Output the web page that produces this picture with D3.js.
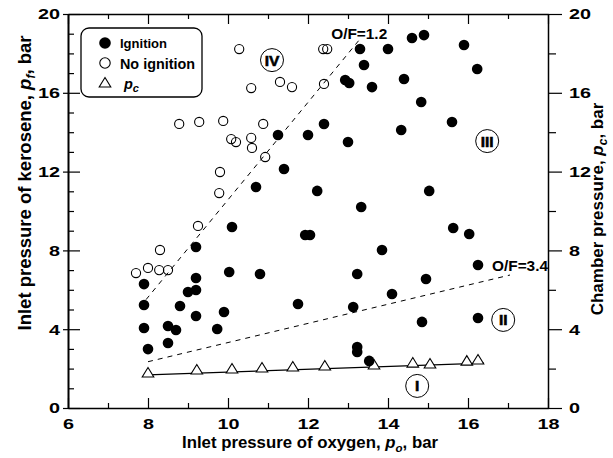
<!DOCTYPE html>
<html><head><meta charset="utf-8">
<script src="https://cdn.jsdelivr.net/npm/d3@7"></script>
<style>
body{margin:0;background:#fff}
text{font-family:"Liberation Sans",Arial,sans-serif;font-weight:bold;fill:#000}
</style>
</head><body><svg id="c" width="613" height="458"></svg>
<script>
// ---- data ----
const ignitionPo = [8.0,7.9,7.9,7.9,8.5,8.7,8.5,8.8,9.0,9.2,9.2,9.2,9.2,9.73,9.9,10.03,10.1,10.8,10.7,11.4,11.25,11.75,12.0,12.23,11.93,12.05,12.4,12.93,13.03,13.0,13.3,13.4,13.33,13.23,13.13,13.23,13.23,13.53,13.6,13.85,14.0,14.1,14.33,14.4,14.6,14.9,14.83,14.95,14.85,15.03,15.6,15.63,15.9,16.03,16.23,16.25,16.25];
const ignitionPf = [2.99,4.06,5.23,6.29,4.16,3.96,3.30,5.18,5.89,5.99,6.60,4.67,8.17,4.01,4.87,6.90,9.19,6.80,11.22,12.13,13.86,5.28,13.86,11.02,8.78,8.78,14.42,16.65,16.50,13.50,18.22,17.41,10.20,6.80,5.13,3.10,2.84,2.39,16.29,8.02,18.22,5.79,14.11,16.70,18.78,18.93,15.53,6.55,4.37,11.02,14.52,9.14,18.43,8.83,17.21,7.26,4.57];
const noIgnitionPo = [7.7,8.0,8.28,8.5,8.3,9.25,9.78,9.8,10.08,10.2,10.58,10.6,10.93,8.78,9.28,9.88,10.88,10.28,10.58,11.3,11.6,12.4,12.38,12.48];
const noIgnitionPf = [6.85,7.11,7.0,7.0,8.02,9.24,10.91,11.98,13.65,13.5,13.71,13.2,12.74,14.42,14.52,14.57,14.42,18.22,16.24,16.55,16.29,16.45,18.22,18.22];
const pcPo = [8.0,9.22,10.1,10.85,11.62,12.42,13.65,14.62,15.05,15.97,16.25];
const pcPc = [1.78,1.93,1.98,2.03,2.08,2.13,2.18,2.28,2.23,2.38,2.44];
const pcFitPo = [8.0,16.4];
const pcFitPc = [1.68,2.28];
const of12Po = [7.95,13.3];
const of12Pf = [5.5,18.73];
const of34Po = [8.0,17.05];
const of34Pf = [2.35,6.75];
const ofLabels = ["O/F=1.2","O/F=3.4"];
const ofLabelPo = [12.58,16.6];
const ofLabelPf = [18.73,6.95];
const regionLabels = ["IV","III","II","I"];
const regionPo = [11.1,16.48,16.88,14.73];
const regionPf = [17.66,13.55,4.47,1.12];
const xTicks = d3.range(6,19,1);
const yLeftTicks = d3.range(0,21,1);
const yRightTicks = d3.range(0,21,2);

// ---- layout ----
const svg = d3.select("#c");
const x = d3.scaleLinear().domain([6,18]).range([68,548]);
const y = d3.scaleLinear().domain([0,20]).range([408,14]);
const FS = 15;

function styleAxis(g){
  g.select(".domain").attr("stroke","#000").attr("stroke-width",1.5);
  g.selectAll(".tick line").attr("stroke","#000").attr("stroke-width",1.2);
  g.selectAll(".tick text").attr("font-size",FS).attr("font-family",null)
    .each(function(){const t=d3.select(this).text(); if(t) d3.select(this).attr("textLength",t.length*11).attr("lengthAdjust","spacingAndGlyphs");});
}

// bottom
const gB = svg.append("g").attr("transform","translate(0,408)")
  .call(d3.axisBottom(x).tickValues(xTicks).tickSize(-5).tickSizeOuter(0).tickPadding(10).tickFormat(d=>d%2===0?d:""));
styleAxis(gB);
gB.selectAll(".tick line").filter(d=>d%2===0).attr("y2",-10);
// top
const gT = svg.append("g").attr("transform","translate(0,14)")
  .call(d3.axisTop(x).tickValues(xTicks).tickSize(-5).tickSizeOuter(0).tickFormat(""));
styleAxis(gT);
gT.selectAll(".tick line").filter(d=>d%2===0).attr("y2",10);
// left
const gL = svg.append("g").attr("transform","translate(68,0)")
  .call(d3.axisLeft(y).tickValues(yLeftTicks).tickSize(-6).tickSizeOuter(0).tickPadding(8).tickFormat(d=>d%4===0?d:""));
styleAxis(gL);
gL.select(".domain").attr("stroke-width",2);
gL.selectAll(".tick line").filter(d=>d%4===0).attr("x1",-5).attr("x2",12);
// right
const gR = svg.append("g").attr("transform","translate(548,0)")
  .call(d3.axisRight(y).tickValues(yRightTicks).tickSize(8).tickSizeOuter(0).tickPadding(13).tickFormat(d=>d%4===0?d:""));
styleAxis(gR);
gR.selectAll(".tick line").filter(d=>d%4===0).attr("x2",14);

// dashed O/F lines
const line = d3.line().x(d=>x(d[0])).y(d=>y(d[1]));
[[of12Po,of12Pf],[of34Po,of34Pf]].forEach(([px,py])=>{
  svg.append("path").attr("d",line(px.map((v,i)=>[v,py[i]])))
    .attr("fill","none").attr("stroke","#000").attr("stroke-width",1).attr("stroke-dasharray","5,5");
});
svg.selectAll("text.of").data(ofLabels).join("text").attr("class","of")
  .attr("x",(d,i)=>x(ofLabelPo[i])).attr("y",(d,i)=>y(ofLabelPf[i]))
  .attr("font-size",14).attr("textLength",56).attr("lengthAdjust","spacingAndGlyphs").text(d=>d);

// pc fit line
svg.append("path").attr("d",line(pcFitPo.map((v,i)=>[v,pcFitPc[i]])))
  .attr("fill","none").attr("stroke","#000").attr("stroke-width",1.3);

// triangles
const tri = "M0,-5.5L5.8,4L-5.8,4Z";
svg.selectAll("path.tri").data(pcPo).join("path").attr("class","tri")
  .attr("d",tri).attr("transform",(d,i)=>`translate(${x(d)},${y(pcPc[i])})`)
  .attr("fill","#fff").attr("stroke","#000").attr("stroke-width",1.1);

// open circles
svg.selectAll("circle.no").data(noIgnitionPo).join("circle").attr("class","no")
  .attr("cx",d=>x(d)).attr("cy",(d,i)=>y(noIgnitionPf[i])).attr("r",4.6)
  .attr("fill","none").attr("stroke","#000").attr("stroke-width",1.1);
// filled circles
svg.selectAll("circle.ig").data(ignitionPo).join("circle").attr("class","ig")
  .attr("cx",d=>x(d)).attr("cy",(d,i)=>y(ignitionPf[i])).attr("r",5.3)
  .attr("fill","#000");

// region labels
const rg = svg.selectAll("g.rg").data(regionLabels).join("g").attr("class","rg")
  .attr("transform",(d,i)=>`translate(${x(regionPo[i])},${y(regionPf[i])})`);
rg.append("circle").attr("r",11.5).attr("fill","#fff").attr("stroke","#000").attr("stroke-width",1);
rg.append("text").attr("text-anchor","middle").attr("y",5.5).attr("font-size",15.5)
  .attr("font-weight","900").attr("stroke","#000").attr("stroke-width",0.6).text(d=>d);

// legend
const lg = svg.append("g");
lg.append("rect").attr("x",81).attr("y",28).attr("width",121).attr("height",69).attr("rx",8)
  .attr("fill","#fff").attr("stroke","#000").attr("stroke-width",1.3);
lg.append("circle").attr("cx",105).attr("cy",43).attr("r",5.8).attr("fill","#000");
lg.append("circle").attr("cx",105).attr("cy",63).attr("r",5.2).attr("fill","none").attr("stroke","#000").attr("stroke-width",1.1);
lg.append("path").attr("d",tri).attr("transform","translate(105,83)").attr("fill","#fff").attr("stroke","#000").attr("stroke-width",1.1);
lg.append("text").attr("x",120).attr("y",48).attr("font-size",12.5).attr("textLength",47).attr("lengthAdjust","spacingAndGlyphs").text("Ignition");
lg.append("text").attr("x",120).attr("y",69).attr("font-size",14).attr("textLength",75).attr("lengthAdjust","spacingAndGlyphs").text("No ignition");
const pcT = lg.append("text").attr("x",124).attr("y",89).attr("font-size",14.5);
pcT.append("tspan").attr("font-style","italic").text("p");
pcT.append("tspan").attr("font-style","italic").attr("font-size",11).attr("dy",3).text("c");

// axis titles
const bt = svg.append("text").attr("x",310).attr("y",448).attr("text-anchor","middle").attr("font-size",16.8);
bt.append("tspan").text("Inlet pressure of oxygen, ");
bt.append("tspan").attr("font-style","italic").text("p");
bt.append("tspan").attr("font-style","italic").attr("font-size",11.5).attr("dy",4).text("o");
bt.append("tspan").attr("dy",-4).text(", bar");

const lt = svg.append("text").attr("transform","translate(31,183) rotate(-90)").attr("text-anchor","middle").attr("font-size",18.5);
lt.append("tspan").text("Inlet pressure of kerosene, ");
lt.append("tspan").attr("font-style","italic").text("p");
lt.append("tspan").attr("font-style","italic").attr("font-size",12).attr("dy",4).text("f");
lt.append("tspan").attr("dy",-4).text(", bar");

const rt = svg.append("text").attr("transform","translate(603,209) rotate(-90)").attr("text-anchor","middle").attr("font-size",17);
rt.append("tspan").text("Chamber pressure, ");
rt.append("tspan").attr("font-style","italic").text("p");
rt.append("tspan").attr("font-style","italic").attr("font-size",12).attr("dy",4).text("c");
rt.append("tspan").attr("dy",-4).text(", bar");
</script>
</body></html>
